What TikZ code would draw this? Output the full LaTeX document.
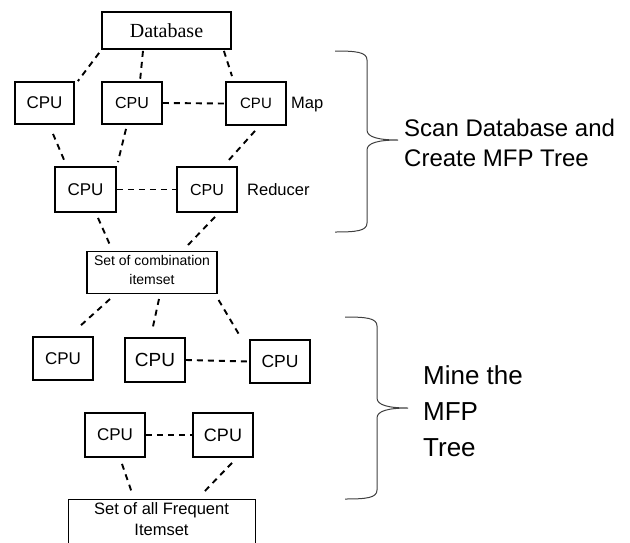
\documentclass[tikz,border=0pt]{standalone}
\usepackage{fontspec}
\setmainfont{Liberation Sans}
\newfontfamily\dbfont{Liberation Serif}
\tikzset{
  cpu/.style={draw, line width=1.8pt, minimum width=60pt, minimum height=43pt,
    inner sep=0pt, font=\fontsize{17}{20}\selectfont},
  setbox/.style={draw, line width=1.2pt, inner xsep=0pt, align=center},
  link/.style={line width=1.9pt, dash pattern=on 6pt off 5pt},
  brace/.style={line width=1pt, draw=black!75},
  tag/.style={anchor=west, inner sep=0pt, font=\fontsize{16.5}{20}\selectfont},
  phase/.style={anchor=west, inner sep=0pt, align=left}
}
\begin{document}
\begin{tikzpicture}[x=1pt, y=-1pt]
\useasboundingbox (0,0) rectangle (630,542);

% --- scan phase: database, mappers, reducers ---
\node (db) [draw, line width=1.8pt, minimum width=129pt, minimum height=37pt, inner sep=0pt,
  font=\dbfont\fontsize{20}{24}\selectfont] at (166.5,30.5) {Database};

\node (m1) [cpu, minimum width=59pt, minimum height=42pt] at (44.5,103) {CPU};
\node (m2) [cpu, minimum height=42pt, font=\fontsize{16}{19}\selectfont] at (132,103) {CPU};
\node (m3) [cpu, font=\fontsize{15}{18}\selectfont] at (256,103.5) {CPU};
\node (map) [tag] at (291,105) {Map};

\node (r1) [cpu, minimum width=61pt, minimum height=45pt] at (85.5,189.5) {CPU};
\node (r2) [cpu, minimum height=45pt, font=\fontsize{16}{19}\selectfont] at (207,189.5) {CPU};
\node (red) [tag] at (247,190) {Reducer};

\node (s1) [setbox, minimum width=130pt, minimum height=39pt,
  font=\fontsize{14}{19}\selectfont] at (152,272.5)
  {Set of combination\\itemset\rule[-6pt]{0pt}{0pt}};

% --- mining phase ---
\node (a) [cpu] at (63,358.5) {CPU};
\node (b) [cpu, minimum height=44pt, font=\fontsize{19}{22}\selectfont] at (155,360) {CPU};
\node (c) [cpu, font=\fontsize{17.5}{20}\selectfont] at (280,361.5) {CPU};

\node (d) [cpu, minimum height=44pt] at (115,435) {CPU};
\node (e) [cpu, minimum height=44pt, font=\fontsize{18}{21}\selectfont] at (223,435) {CPU};

\node (s2) [setbox, line width=1pt, minimum width=187pt, anchor=north, inner ysep=3.5pt,
  font=\fontsize{16.5}{21}\selectfont] at (161.5,499)
  {Set of all Frequent\\Itemset\rule[-14pt]{0pt}{0pt}};

% --- dashed links ---
\draw[link] ([shift={(-2pt,-3pt)}]db.south west) -- ([xshift=3pt]m1.north east);
\draw[link] ([xshift=-23.5pt,yshift=-1pt]db.south) -- ([xshift=8pt]m2.north);
\draw[link] ([xshift=-8pt,yshift=-1pt]db.south east) -- ([xshift=-24pt,yshift=5pt]m3.north);
\draw[link] (m2.east) -- (m3.west);

\draw[link] ([xshift=8.5pt,yshift=-9pt]m1.south) -- ([xshift=-20.5pt,yshift=4pt]r1.north);
\draw[link] ([xshift=-6pt,yshift=-4pt]m2.south) -- ([xshift=1pt,yshift=4pt]r1.north east);
\draw[link] ([xshift=-1pt,yshift=-5pt]m3.south) -- ([xshift=20pt,yshift=4pt]r2.north);
\draw[link] (r1.east) -- (r2.west);

\draw[link] ([xshift=12.5pt,yshift=-5pt]r1.south) -- ([xshift=-42pt,yshift=6pt]s1.north);
\draw[link] ([xshift=8pt,yshift=-4pt]r2.south) -- ([xshift=36pt,yshift=6pt]s1.north);

\draw[link] ([xshift=-42pt,yshift=-5pt]s1.south) -- ([xshift=17pt,yshift=10pt]a.north);
\draw[link] ([xshift=7pt,yshift=-5pt]s1.south) -- ([xshift=-3pt,yshift=6pt]b.north);
\draw[link] ([xshift=1pt,yshift=-6pt]s1.south east) -- ([xshift=-40pt,yshift=3pt]c.north);
\draw[link] (b.east) -- (c.west);

\draw[link] (d.east) -- (e.west);
\draw[link] ([xshift=7pt,yshift=-6pt]d.south) -- ([xshift=-29.5pt,yshift=6pt]s2.north);
\draw[link] ([xshift=9pt,yshift=-5pt]e.south) -- ([xshift=41.5pt,yshift=6pt]s2.north);

% --- braces and phase labels ---
\draw[brace] (335,51) .. controls (356,51) and (367,52) .. (367,60) -- (367,130)
  .. controls (367,137) and (378,140) .. (398,140)
  .. controls (378,140) and (367,143) .. (367,150) -- (367,223)
  .. controls (367,231) and (356,232) .. (335,232);
\node (scan) [phase, font=\fontsize{24}{30}\selectfont] at (404,143)
  {Scan Database and\\Create MFP Tree};

\draw[brace] (345,317) .. controls (366,317) and (377,318) .. (377,326) -- (377,398)
  .. controls (377,405) and (388,408) .. (408,408)
  .. controls (388,408) and (377,411) .. (377,418) -- (377,490)
  .. controls (377,498) and (366,499) .. (345,499);
\node (mine) [phase, font=\fontsize{26}{36}\selectfont] at (423,411)
  {Mine the\\MFP\\Tree};
\end{tikzpicture}
\end{document}
